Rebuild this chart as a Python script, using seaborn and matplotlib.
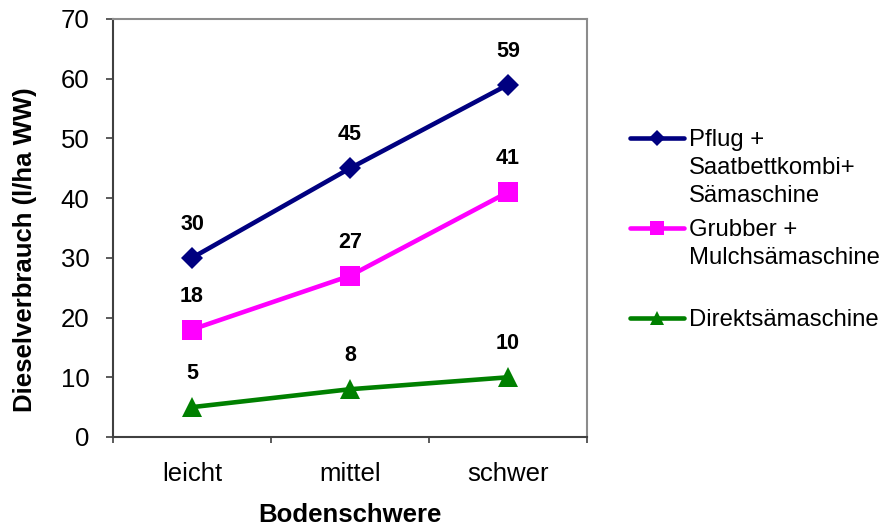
import matplotlib
matplotlib.use("Agg")
import matplotlib.pyplot as plt
from matplotlib.lines import Line2D
from matplotlib.ticker import FixedLocator
import seaborn as sns
import pandas as pd

# Diesel consumption by soil heaviness for three tillage systems
soil_classes = ["leicht", "mittel", "schwer"]
pflug = [30, 45, 59]
grubber = [18, 27, 41]
direkt = [5, 8, 10]

series_names = [
    "Pflug +\nSaatbettkombi+\nSämaschine",
    "Grubber +\nMulchsämaschine",
    "Direktsämaschine",
]
series_values = [pflug, grubber, direkt]
series_colors = ["#000080", "#FF00FF", "#008000"]
series_markers = ["D", "s", "^"]
series_msize = [11.5, 14, 14.5]

y_ticks = [0, 10, 20, 30, 40, 50, 60, 70]

sns.set_style("white")
plt.rcParams["font.family"] = ["Liberation Sans", "DejaVu Sans"]

fig = plt.figure(figsize=(8.83, 5.26), dpi=100)
ax = fig.add_axes([113 / 883, 1 - 437 / 526, 474 / 883, 418 / 526])

for name, vals, col, mk, ms in zip(series_names, series_values, series_colors,
                                   series_markers, series_msize):
    df = pd.DataFrame({"Bodenschwere": soil_classes, "Verbrauch": vals})
    sns.lineplot(data=df, x="Bodenschwere", y="Verbrauch", ax=ax, color=col,
                 linewidth=3.3, marker=mk, markersize=ms, markeredgewidth=0,
                 legend=False, clip_on=False)
    for i, v in enumerate(vals):
        ax.annotate(f"{v}", (i, v), xytext=(0, 24), textcoords="offset points",
                    ha="center", va="center", fontsize=15.5, fontweight="bold",
                    color="black")

ax.set_xlim(-0.5, 2.5)
ax.set_ylim(0, 70)
ax.set_yticks(y_ticks)
ax.set_xticks(range(len(soil_classes)))
ax.set_xticklabels(soil_classes)
ax.xaxis.set_minor_locator(FixedLocator([-0.5, 0.5, 1.5, 2.5]))

ax.tick_params(axis="x", which="major", length=0, pad=18, labelsize=18.5,
               labelcolor="black")
ax.tick_params(axis="x", which="minor", length=4.5, width=1.2, color="#404040",
               direction="out", bottom=True)
ax.tick_params(axis="y", which="major", length=5, width=1.2, color="#404040",
               direction="out", left=True, pad=12, labelsize=18.5,
               labelcolor="black")

for side in ["left", "bottom"]:
    ax.spines[side].set_color("#404040")
    ax.spines[side].set_linewidth(1.5)
for side in ["top", "right"]:
    ax.spines[side].set_color("#8c8c8c")
    ax.spines[side].set_linewidth(1.5)
    ax.spines[side].set_visible(True)

ax.set_xlabel("Bodenschwere", fontsize=18.5, fontweight="bold", color="black")
ax.set_ylabel("Dieselverbrauch (l/ha WW)", fontsize=18.5, fontweight="bold",
              color="black")
ax.xaxis.set_label_coords(0.5, -0.158)
ax.yaxis.set_label_coords(-0.16, 0.447)

# Legend entries placed to the right of the plot area
entry_y = [138, 228, 318]
for name, col, mk, ms, yy in zip(series_names, series_colors, series_markers,
                                 series_msize, entry_y):
    yf = 1 - yy / 526
    fig.add_artist(Line2D([630 / 883, 684 / 883], [yf, yf],
                          transform=fig.transFigure, color=col, linewidth=3.3))
    fig.add_artist(Line2D([657 / 883], [yf], transform=fig.transFigure,
                          color=col, marker=mk, markersize=ms * 0.72,
                          markeredgewidth=0, linestyle="none"))
    fig.text(689 / 883, 1 - (yy - 9) / 526, name, fontsize=17.2, va="top",
             ha="left", linespacing=1.36, color="black")

fig.savefig("out.png", dpi=100)
